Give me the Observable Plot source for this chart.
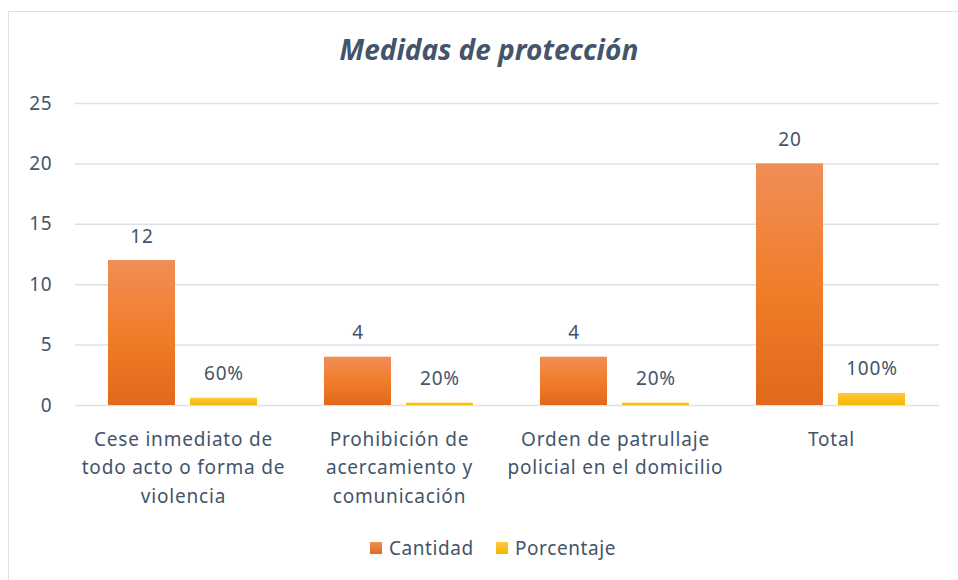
<!DOCTYPE html>
<html>
<head>
<meta charset="utf-8">
<script src="https://cdn.jsdelivr.net/npm/d3@7"></script>
<script src="https://cdn.jsdelivr.net/npm/@observablehq/plot@0.6"></script>
<style>
  html, body { margin: 0; padding: 0; background: #fff; overflow: hidden; }
  #wrap { position: relative; width: 958px; height: 580px; overflow: hidden; font-family: "Noto Sans", sans-serif; color: #44546A; }
  #frame { position: absolute; left: 8px; top: 11px; width: 1000px; height: 620px; border: 1px solid #DCE1E7; box-sizing: border-box; }
  #title { position: absolute; left: 0; width: 978px; top: 30px; text-align: center; font-size: 28px; font-weight: bold; font-style: italic; }
  #chart { position: absolute; left: 0; top: 0; }
  #legend { position: absolute; left: 0; width: 986px; top: 534px; text-align: center; font-size: 19px; letter-spacing: 0.6px; }
  #legend span.item { display: inline-flex; align-items: center; margin: 0 11px; }
  #legend span.sw { display: inline-block; width: 12px; height: 12px; margin-right: 7px; }
  #chart svg text { letter-spacing: 0.8px; }
</style>
</head>
<body>
<div id="wrap">
  <div id="frame"></div>
  <div id="title">Medidas de protección</div>
  <div id="chart"></div>
  <div id="legend"></div>
</div>
<script>
const categories = [
  "Cese inmediato de\ntodo acto o forma de\nviolencia",
  "Prohibición de\nacercamiento y\ncomunicación",
  "Orden de patrullaje\npolicial en el domicilio",
  "Total"
];
const series = ["Cantidad", "Porcentaje"];
const cantidad = [12, 4, 4, 20];
const porcentaje = [0.6, 0.2, 0.2, 1.0];
const porcentajeLabels = ["60%", "20%", "20%", "100%"];
const yTicks = [0, 5, 10, 15, 20, 25];

const rows = [];
categories.forEach((c, i) => {
  rows.push({categoria: c, serie: "Cantidad", valor: cantidad[i], label: String(cantidad[i])});
  rows.push({categoria: c, serie: "Porcentaje", valor: porcentaje[i], label: porcentajeLabels[i]});
});

const fills = {Cantidad: "url(#gradOrange)", Porcentaje: "url(#gradYellow)"};

const defs = () => {
  const ns = "http://www.w3.org/2000/svg";
  const g = document.createElementNS(ns, "defs");
  g.innerHTML = `
    <linearGradient id="gradOrange" x1="0" y1="0" x2="0" y2="1">
      <stop offset="0" stop-color="#F08E58"/>
      <stop offset="0.5" stop-color="#F07E2A"/>
      <stop offset="1" stop-color="#E2691B"/>
    </linearGradient>
    <linearGradient id="gradYellow" x1="0" y1="0" x2="0" y2="1">
      <stop offset="0" stop-color="#FFC93E"/>
      <stop offset="1" stop-color="#F3B800"/>
    </linearGradient>`;
  return g;
};

const chart = Plot.plot({
  width: 958,
  height: 530,
  marginTop: 103,
  marginBottom: 125,
  marginLeft: 73,
  marginRight: 18,
  style: {fontFamily: "Noto Sans", fontSize: "19px", color: "#44546A", background: "transparent", overflow: "visible"},
  fx: {domain: categories, padding: 0, label: null},
  x: {domain: series, paddingInner: 0.181, paddingOuter: 0.395, axis: null},
  y: {domain: [0, 25], label: null},
  marks: [
    defs,
    Plot.ruleY(yTicks, {stroke: "#DCE1E7", strokeWidth: 1.5, facet: "exclude"}),
    Plot.axisY({ticks: yTicks, tickSize: 0, tickPadding: 23, fontSize: 19, label: null}),
    Plot.axisFx({anchor: "bottom", tickSize: 0, tickPadding: 20, fontSize: 19, lineHeight: 1.5, label: null}),
    Plot.barY(rows, {fx: "categoria", x: "serie", y: "valor", fill: d => fills[d.serie]}),
    Plot.text(rows, {fx: "categoria", x: "serie", y: "valor", text: "label", dy: -18, lineAnchor: "bottom", fontSize: 19, fill: "#44546A"})
  ]
});
document.getElementById("chart").appendChild(chart);

const legend = document.getElementById("legend");
const swatchColors = {Cantidad: "linear-gradient(#F08E58, #E2691B)", Porcentaje: "linear-gradient(#FFC93E, #F3B800)"};
series.forEach(s => {
  const item = document.createElement("span");
  item.className = "item";
  item.innerHTML = `<span class="sw" style="background:${swatchColors[s]}"></span>${s}`;
  legend.appendChild(item);
});
</script>
</body>
</html>
